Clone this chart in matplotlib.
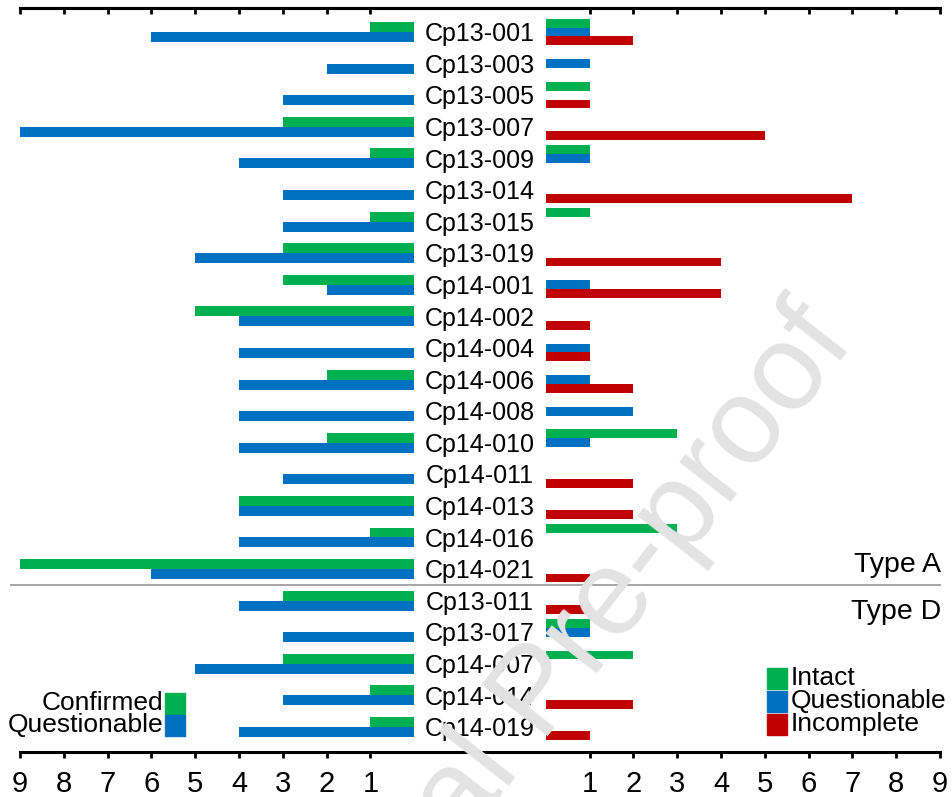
import matplotlib
matplotlib.use("Agg")
import matplotlib.pyplot as plt
from matplotlib.patches import Rectangle
import numpy as np

plt.rcParams["font.family"] = ["Liberation Sans", "DejaVu Sans"]

# ---------------------------------------------------------------------------
# Data (counts per sample)
# ---------------------------------------------------------------------------
SAMPLES = [
    "Cp13-001", "Cp13-003", "Cp13-005", "Cp13-007", "Cp13-009", "Cp13-014",
    "Cp13-015", "Cp13-019", "Cp14-001", "Cp14-002", "Cp14-004", "Cp14-006",
    "Cp14-008", "Cp14-010", "Cp14-011", "Cp14-013", "Cp14-016", "Cp14-021",
    "Cp13-011", "Cp13-017", "Cp14-007", "Cp14-014", "Cp14-019",
]
N_TYPE_A = 18

# left panel
confirmed = [1, 0, 0, 3, 1, 0, 1, 3, 3, 5, 0, 2, 0, 2, 0, 4, 1, 9,
             3, 0, 3, 1, 1]
questionable_left = [6, 2, 3, 9, 4, 3, 3, 5, 2, 4, 4, 4, 4, 4, 3, 4, 4, 6,
                     4, 3, 5, 3, 4]

# right panel
intact = [1, 0, 1, 0, 1, 0, 1, 0, 0, 0, 0, 0, 0, 3, 0, 0, 3, 0,
          0, 1, 2, 0, 0]
questionable_right = [1, 1, 0, 0, 1, 0, 0, 0, 1, 0, 1, 1, 2, 1, 0, 0, 0, 0,
                      0, 1, 0, 0, 0]
incomplete = [2, 0, 1, 5, 0, 7, 0, 4, 4, 1, 1, 2, 0, 0, 2, 2, 0, 1,
              1, 0, 0, 2, 1]

TICK_VALUES = list(range(1, 10))

GREEN = "#00B050"
BLUE = "#0070C0"
RED = "#C00000"

W, H = 952, 797
GAP = 1.5          # half-width of the label column, in bar units
XMAX = 9 + GAP


def fx(px):
    return px / W


def fy(py):
    return 1 - py / H


fig = plt.figure(figsize=(W / 100, H / 100), dpi=100)
ax = fig.add_axes([fx(20), fy(752), (940 - 20) / W, (752 - 8) / H])
ax.set_xlim(-XMAX, XMAX)
ax.set_ylim(22.79, -0.76)

y = np.arange(len(SAMPLES))

# ── left: confirmed / questionable (drawn leftwards) ──────────────────────
h_l = 0.316
ax.barh(y - h_l / 2, -np.array(confirmed), left=-GAP, height=h_l,
        color=GREEN, linewidth=0)
ax.barh(y + h_l / 2, -np.array(questionable_left), left=-GAP, height=h_l,
        color=BLUE, linewidth=0)

# ── right: intact / questionable / incomplete ─────────────────────────────
h_r = 0.28
ax.barh(y - h_r, intact, left=GAP, height=h_r, color=GREEN, linewidth=0)
ax.barh(y, questionable_right, left=GAP, height=h_r, color=BLUE, linewidth=0)
ax.barh(y + h_r, incomplete, left=GAP, height=h_r, color=RED, linewidth=0)

# sample labels in the middle column
for yi, name in zip(y, SAMPLES):
    ax.text(0, yi + 0.29, name, ha="center", va="baseline", fontsize=18)

# separator between type A and type D
ax.plot([-XMAX - 0.2, XMAX], [N_TYPE_A - 0.5] * 2, color="#a6a6a6",
        lw=1.4, clip_on=False)

# ── axes styling ──────────────────────────────────────────────────────────
tick_pos = [-(GAP + v) for v in TICK_VALUES[::-1]] + [GAP + v for v in TICK_VALUES]
tick_lab = [str(v) for v in TICK_VALUES[::-1]] + [str(v) for v in TICK_VALUES]
ax.set_xticks(tick_pos)
ax.set_xticklabels(tick_lab, fontsize=21)
ax.tick_params(axis="x", direction="out", length=4, width=2, pad=9)
ax.set_yticks([])
for side in ("left", "right"):
    ax.spines[side].set_visible(False)
for side in ("top", "bottom"):
    ax.spines[side].set_linewidth(2.2)

top = ax.secondary_xaxis("top")
top.set_xticks(tick_pos)
top.set_xticklabels([])
top.tick_params(direction="in", length=4, width=2)
top.spines["top"].set_linewidth(2.2)

# ── type annotations ──────────────────────────────────────────────────────
fig.text(fx(941), fy(572), "Type A", ha="right", va="baseline", fontsize=20.5)
fig.text(fx(941), fy(619), "Type D", ha="right", va="baseline", fontsize=20.5)

# ── legends (drawn by hand) ───────────────────────────────────────────────
for label, color, yc in [("Confirmed", GREEN, 703), ("Questionable", BLUE, 725)]:
    fig.add_artist(Rectangle((fx(165), fy(yc + 10.5)), 20 / W, 21 / H,
                             transform=fig.transFigure, color=color))
    fig.text(fx(163), fy(yc), label, ha="right", va="center", fontsize=19)

for label, color, yc in [("Intact", GREEN, 678), ("Questionable", BLUE, 701),
                         ("Incomplete", RED, 724)]:
    fig.add_artist(Rectangle((fx(767), fy(yc + 10.5)), 20 / W, 21 / H,
                             transform=fig.transFigure, color=color))
    fig.text(fx(791), fy(yc), label, ha="left", va="center", fontsize=19)

# watermark
fig.text(fx(540), fy(695), "Journal Pre-proof", rotation=52,
         rotation_mode="anchor", ha="center", va="center", fontsize=88,
         color="#e3e3e3", zorder=20)

fig.savefig("out.png", dpi=100)
